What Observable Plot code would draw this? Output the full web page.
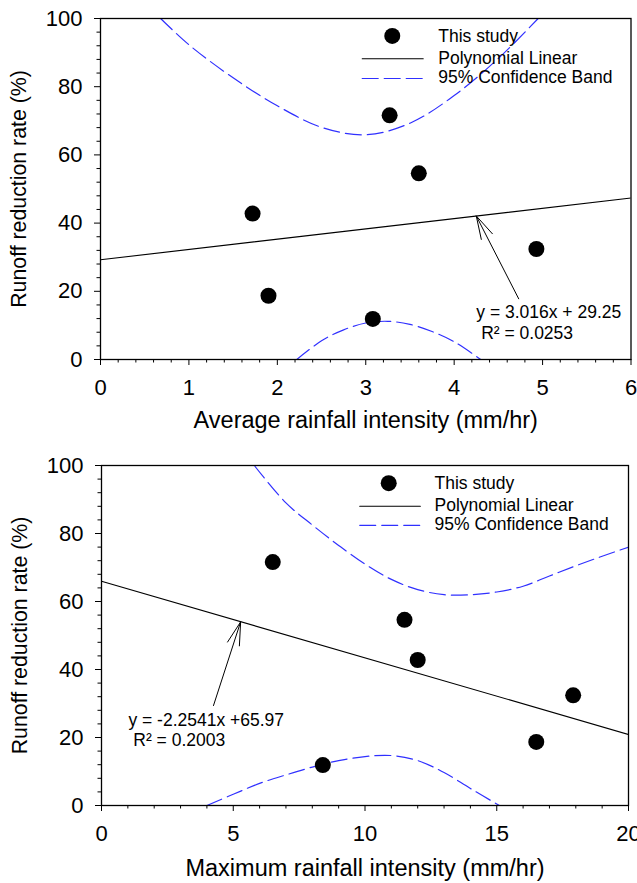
<!DOCTYPE html>
<html>
<head>
<meta charset="utf-8">
<script src="https://cdn.jsdelivr.net/npm/d3@7"></script>
<script src="https://cdn.jsdelivr.net/npm/@observablehq/plot@0.6"></script>
<style>
  html, body { margin: 0; padding: 0; background: #fff; }
  #chart { width: 637px; }
  #chart svg { display: block; }
</style>
</head>
<body>
<div id="chart"></div>
<script>
// ---------- Data ----------
// Panel A: average rainfall intensity
const avgIntensity = [1.72, 1.9, 3.27, 3.6, 4.93, 3.08];
const avgRunoff    = [42.8, 18.7, 71.6, 54.6, 32.4, 11.9];
const avgFitX = [0, 6];
const avgFitY = [29.25, 47.35];
const avgUpperX = [0.68, 1.0, 1.5, 2.0, 2.5, 3.0, 3.5, 4.0, 4.5, 4.95];
const avgUpperY = [100, 92.3, 82.6, 74.4, 68.1, 65.9, 69.3, 77.4, 88.3, 100];
const avgLowerX = [2.22, 2.5, 2.75, 3.0, 3.25, 3.5, 3.75, 4.0, 4.3];
const avgLowerY = [0, 5.5, 8.7, 10.7, 11.2, 10.3, 8.2, 5.2, 0];

// Panel B: maximum rainfall intensity
const maxIntensity = [6.5, 11.5, 12.0, 17.9, 16.5, 8.4];
const maxRunoff    = [71.6, 54.6, 42.8, 32.4, 18.7, 11.9];
const maxFitX = [0, 20];
const maxFitY = [65.97, 20.89];
const maxUpperX = [5.8, 7, 8, 9, 10, 11, 12, 13, 14, 15, 16, 17, 18, 19, 20];
const maxUpperY = [100, 89, 82.5, 76.5, 71, 66.5, 63.5, 62, 62, 62.8, 64.5, 67.5, 70.5, 73.3, 76];
const maxLowerX = [4.0, 5, 6, 7, 8, 9, 10, 11, 12, 13, 14, 15.1];
const maxLowerY = [0, 3.3, 6.5, 9, 11.3, 13.2, 14.4, 14.7, 13.2, 9.7, 5, 0];

// Tick labels
const avgXTicks = [0, 1, 2, 3, 4, 5, 6];
const maxXTicks = [0, 5, 10, 15, 20];
const yTicks = [0, 20, 40, 60, 80, 100];

// Text
const yTitle = "Runoff reduction rate (%)";
const avgXTitle = "Average rainfall intensity (mm/hr)";
const maxXTitle = "Maximum rainfall intensity (mm/hr)";
const legendLabels = ["This study", "Polynomial Linear", "95% Confidence Band"];
const avgEq = ["y = 3.016x + 29.25", " R\u00B2 = 0.0253"];
const maxEq = ["y = -2.2541x +65.97", " R\u00B2 = 0.2003"];

// ---------- Helpers ----------
const FONT = "'Liberation Sans', Arial, Helvetica, sans-serif";
const BLUE = "#3030ff";
const DASH = "16,6";
const pts = (xs, ys) => xs.map((x, i) => ({x, y: ys[i]}));
const minorTicks = (lo, hi, step, majorStep) =>
  d3.range(lo, hi + step / 2, step).filter(v => Math.abs(v / majorStep - Math.round(v / majorStep)) > 1e-6);

function panel(cfg) {
  const xMinor = minorTicks(cfg.xDomain[0], cfg.xDomain[1], cfg.xMinorStep, cfg.xMajorStep);
  const yMinor = minorTicks(0, 100, 4, 20);
  const L = cfg.legend;
  return Plot.plot({
    width: 637,
    height: cfg.height,
    marginLeft: cfg.marginLeft,
    marginRight: cfg.marginRight,
    marginTop: cfg.marginTop,
    marginBottom: cfg.marginBottom,
    style: {fontFamily: FONT, fontSize: "21px", color: "black", background: "white", overflow: "visible"},
    x: {domain: cfg.xDomain},
    y: {domain: [0, 100]},
    marks: [
      Plot.line(pts(cfg.upX, cfg.upY), {x: "x", y: "y", curve: "catmull-rom", stroke: BLUE, strokeWidth: 1.2, strokeDasharray: DASH, clip: true}),
      Plot.line(pts(cfg.loX, cfg.loY), {x: "x", y: "y", curve: "catmull-rom", stroke: BLUE, strokeWidth: 1.2, strokeDasharray: DASH, clip: true}),
      Plot.line(pts(cfg.fitX, cfg.fitY), {x: "x", y: "y", stroke: "black", strokeWidth: 1.1, clip: true}),
      Plot.dot(pts(cfg.ptsX, cfg.ptsY), {x: "x", y: "y", r: 8, fill: "black", stroke: "none"}),
      Plot.axisY(cfg.yTicks, {tickSize: 6, tickPadding: 12, fontSize: 22, label: null}),
      Plot.axisY(yMinor, {tickSize: 3.5, text: null, label: null}),
      Plot.axisX(cfg.xTicks, {tickSize: 6, tickPadding: 14, fontSize: 22, label: null}),
      Plot.axisX(xMinor, {tickSize: 3.5, text: null, label: null}),
      Plot.frame({stroke: "black", strokeWidth: 1.3}),
      Plot.text([cfg.xTitle], {text: d => d, frameAnchor: "bottom", dy: cfg.xTitleDy, textAnchor: "middle", lineAnchor: "middle", fontSize: 23.5}),
      Plot.text([yTitle], {text: d => d, frameAnchor: "left", dx: -81, rotate: -90, textAnchor: "middle", lineAnchor: "middle", fontSize: 21.3}),
      Plot.dot([L.dot], {x: "x", y: "y", r: 8, fill: "black", stroke: "none"}),
      Plot.line(L.solid, {x: "x", y: "y", stroke: "black", strokeWidth: 1.1}),
      Plot.line(L.dashed, {x: "x", y: "y", stroke: BLUE, strokeWidth: 1.2, strokeDasharray: DASH}),
      Plot.text(L.labels, {x: "x", y: "y", text: "t", textAnchor: "start", fontSize: 17.5}),
      Plot.arrow([cfg.arrow], {x1: "x1", y1: "y1", x2: "x2", y2: "y2", stroke: "black", strokeWidth: 1, headAngle: 30, headLength: 36}),
      Plot.text(cfg.eqText, {x: "x", y: "y", text: "t", textAnchor: "start", fontSize: 17.5})
    ]
  });
}

const topPanel = panel({
  height: 432, marginTop: 18, marginBottom: 73, marginLeft: 100, marginRight: 6.5,
  xDomain: [0, 6], xMajorStep: 1, xMinorStep: 0.2, xTicks: avgXTicks, yTicks,
  ptsX: avgIntensity, ptsY: avgRunoff,
  fitX: avgFitX, fitY: avgFitY,
  upX: avgUpperX, upY: avgUpperY, loX: avgLowerX, loY: avgLowerY,
  xTitle: avgXTitle, xTitleDy: 61,
  legend: {
    dot: {x: 3.3, y: 94.9},
    solid: [{x: 2.96, y: 88.2}, {x: 3.65, y: 88.2}],
    dashed: [{x: 2.96, y: 82.4}, {x: 3.65, y: 82.4}],
    labels: [{x: 3.82, y: 94.9, t: legendLabels[0]}, {x: 3.82, y: 88.4, t: legendLabels[1]}, {x: 3.82, y: 82.6, t: legendLabels[2]}]
  },
  arrow: {x1: 4.73, y1: 17.8, x2: 4.25, y2: 42.1},
  eqText: [{x: 4.25, y: 13.8, t: avgEq[0]}, {x: 4.25, y: 7.6, t: avgEq[1]}]
});

const bottomPanel = panel({
  height: 451, marginTop: 33, marginBottom: 78, marginLeft: 101, marginRight: 9,
  xDomain: [0, 20], xMajorStep: 5, xMinorStep: 1, xTicks: maxXTicks, yTicks,
  ptsX: maxIntensity, ptsY: maxRunoff,
  fitX: maxFitX, fitY: maxFitY,
  upX: maxUpperX, upY: maxUpperY, loX: maxLowerX, loY: maxLowerY,
  xTitle: maxXTitle, xTitleDy: 63,
  legend: {
    dot: {x: 10.9, y: 94.8},
    solid: [{x: 9.8, y: 88.0}, {x: 12.1, y: 88.0}],
    dashed: [{x: 9.8, y: 82.4}, {x: 12.1, y: 82.4}],
    labels: [{x: 12.64, y: 94.8, t: legendLabels[0]}, {x: 12.64, y: 88.2, t: legendLabels[1]}, {x: 12.64, y: 82.6, t: legendLabels[2]}]
  },
  arrow: {x1: 4.25, y1: 29.4, x2: 5.28, y2: 54.0},
  eqText: [{x: 1.02, y: 25, t: maxEq[0]}, {x: 1.02, y: 19.1, t: maxEq[1]}]
});

const chart = document.getElementById("chart");
chart.appendChild(topPanel);
chart.appendChild(bottomPanel);
</script>
</body>
</html>
